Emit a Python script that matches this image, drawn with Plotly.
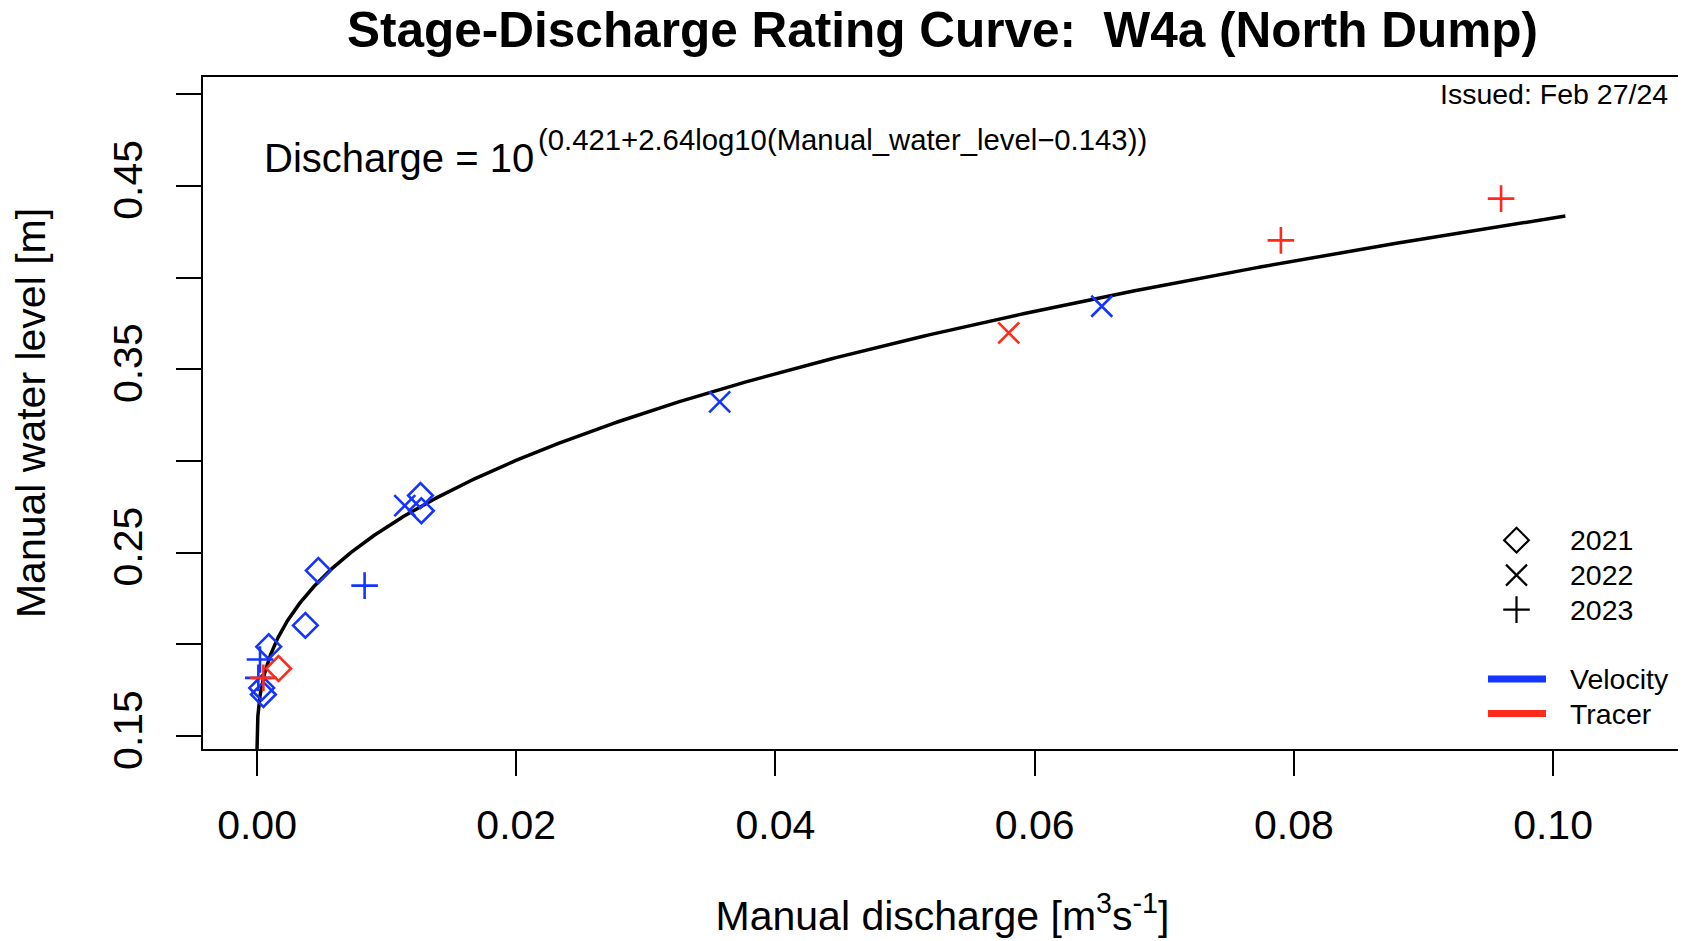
import numpy as np
import plotly.graph_objects as go

# ---- data ----
# 2021 (diamonds)
d21_vel_q = [0.01261, 0.01268, 0.00473, 0.00373, 0.00090, 0.00036, 0.00049]
d21_vel_h = [0.2812, 0.2729, 0.2403, 0.2104, 0.1988, 0.1763, 0.1727]
d21_tr_q = [0.00166]
d21_tr_h = [0.1869]
# 2022 (x)
d22_vel_q = [0.06518, 0.0357, 0.01140]
d22_vel_h = [0.3844, 0.3323, 0.2757]
d22_tr_q = [0.0580]
d22_tr_h = [0.3699]
# 2023 (+)
d23_vel_q = [0.0083, 0.00023, 0.00010]
d23_vel_h = [0.2321, 0.1918, 0.1818]
d23_tr_q = [0.09599, 0.0790, 0.00049]
d23_tr_h = [0.4431, 0.4203, 0.1818]

# rating curve parameters (from equation shown in chart)
a_coef, b_coef, h0 = 0.421, 2.64, 0.143
h_curve = np.linspace(h0 + 1e-6, 0.4336, 400)
q_curve = 10 ** (a_coef + b_coef * np.log10(h_curve - h0))

x_ticks = [0.00, 0.02, 0.04, 0.06, 0.08, 0.10]
x_ticktext = ["0.00", "0.02", "0.04", "0.06", "0.08", "0.10"]
y_ticks = [0.15, 0.20, 0.25, 0.30, 0.35, 0.40, 0.45, 0.50]
y_ticktext = ["0.15", "", "0.25", "", "0.35", "", "0.45", ""]

legend_years = ["2021", "2022", "2023"]
legend_methods = ["Velocity", "Tracer"]

BLUE = "#1434FF"
RED = "#FF2A1A"
FONT = "Liberation Sans, Arial, Helvetica, sans-serif"

# page body has an 8px margin -> shift figure geometry accordingly
OFF = 8
W, H = 1686 - OFF, 941 - OFF
PL, PR, PT, PB = 203, 1682, 77, 749.5  # plot box in window pixels


def px_to_paper(px, py):
    return (px - PL) / (PR - PL), (PB - py) / (PB - PT)


fig = go.Figure()

fig.add_trace(go.Scatter(x=q_curve, y=h_curve, mode="lines",
                         line=dict(color="black", width=3.5),
                         showlegend=False, hoverinfo="skip"))

SYM = {"2021": ("diamond-open", 19), "2022": ("x-thin-open", 21),
       "2023": ("cross-thin-open", 19)}


def pts(q, h, year, color):
    sym, size = SYM[year]
    fig.add_trace(go.Scatter(
        x=q, y=h, mode="markers", showlegend=False,
        marker=dict(symbol=sym, size=size, color=color,
                    line=dict(color=color, width=2.6))))


pts(d21_vel_q, d21_vel_h, "2021", BLUE)
pts(d21_tr_q, d21_tr_h, "2021", RED)
pts(d22_vel_q, d22_vel_h, "2022", BLUE)
pts(d22_tr_q, d22_tr_h, "2022", RED)
pts(d23_vel_q, d23_vel_h, "2023", BLUE)
pts(d23_tr_q, d23_tr_h, "2023", RED)

# ---- legend (R style, no box) drawn on an overlay paper-like axis ----
leg_sym_x = 1516.5
leg_text_x = 1568
leg_line_x = (1488, 1546)
year_rows = [540.5, 575.5, 610]
method_rows = [679.5, 714]

for lab, row in zip(legend_years, year_rows):
    sym, size = SYM[lab]
    lx, ly = px_to_paper(leg_sym_x, row)
    fig.add_trace(go.Scatter(x=[lx], y=[ly], xaxis="x2", yaxis="y2",
                             mode="markers", showlegend=False, hoverinfo="skip",
                             marker=dict(symbol=sym, size=size, color="black",
                                         line=dict(color="black", width=2.2))))
    tx, ty = px_to_paper(leg_text_x, row)
    fig.add_annotation(text=lab, xref="paper", yref="paper", x=tx, y=ty,
                       xanchor="left", yanchor="middle", showarrow=False,
                       font=dict(size=28.5))

for lab, row, col in zip(legend_methods, method_rows, [BLUE, RED]):
    x0, ly = px_to_paper(leg_line_x[0], row)
    x1, _ = px_to_paper(leg_line_x[1], row)
    fig.add_trace(go.Scatter(x=[x0, x1], y=[ly, ly], xaxis="x2", yaxis="y2",
                             mode="lines", showlegend=False, hoverinfo="skip",
                             line=dict(color=col, width=7)))
    tx, ty = px_to_paper(leg_text_x, row)
    fig.add_annotation(text=lab, xref="paper", yref="paper", x=tx, y=ty,
                       xanchor="left", yanchor="middle", showarrow=False,
                       font=dict(size=28.5))

fig.update_layout(
    width=W, height=H,
    margin=dict(l=PL - OFF, r=1686 - PR, t=PT - OFF, b=941 - PB),
    paper_bgcolor="white", plot_bgcolor="white",
    font=dict(family=FONT, color="black"),
    showlegend=False,
    title=dict(text="Stage-Discharge Rating Curve: \u00a0W4a (North Dump)",
               font=dict(size=49.5, weight="bold", family=FONT),
               x=0.5, xref="paper", xanchor="center",
               y=1 - (30 - OFF) / H, yref="container", yanchor="middle"),
    xaxis=dict(range=[-0.00417, 0.10995], tickvals=x_ticks, ticktext=x_ticktext,
               showgrid=False, zeroline=False, showline=True, mirror=True,
               linecolor="black", linewidth=2, ticks="outside", ticklen=25,
               tickwidth=1.6, tickcolor="black", ticklabelstandoff=14,
               tickfont=dict(size=41), automargin=False,
               title=dict(text="Manual discharge [m<sup>3</sup>s<sup>-1</sup>]",
                          font=dict(size=41), standoff=54)),
    yaxis=dict(range=[0.143, 0.5094], tickvals=y_ticks, ticktext=y_ticktext,
               showgrid=False, zeroline=False, showline=True, mirror=True,
               linecolor="black", linewidth=2, ticks="outside", ticklen=25,
               tickwidth=1.6, tickcolor="black", tickangle=-90,
               ticklabelstandoff=18, tickfont=dict(size=41), automargin=False,
               title=dict(text="Manual water level [m]", font=dict(size=41),
                          standoff=47)),
    xaxis2=dict(overlaying="x", anchor="y2", range=[0, 1], visible=False,
                fixedrange=True),
    yaxis2=dict(overlaying="y", anchor="x2", range=[0, 1], visible=False,
                fixedrange=True),
)

ex, ey = px_to_paper(262, 158)
fig.add_annotation(
    text="Discharge = 10", xref="paper", yref="paper", x=ex, y=ey,
    xanchor="left", yanchor="middle", showarrow=False, font=dict(size=40))
sx, sy = px_to_paper(536, 140)
fig.add_annotation(
    text="(0.421+2.64log10(Manual_water_level\u22120.143))",
    xref="paper", yref="paper", x=sx, y=sy,
    xanchor="left", yanchor="middle", showarrow=False, font=dict(size=29.3))
ix, iy = px_to_paper(1670, 94)
fig.add_annotation(
    text="Issued: Feb 27/24", xref="paper", yref="paper", x=ix, y=iy,
    xanchor="right", yanchor="middle", showarrow=False, font=dict(size=28.5))

fig.write_html("out.html")
